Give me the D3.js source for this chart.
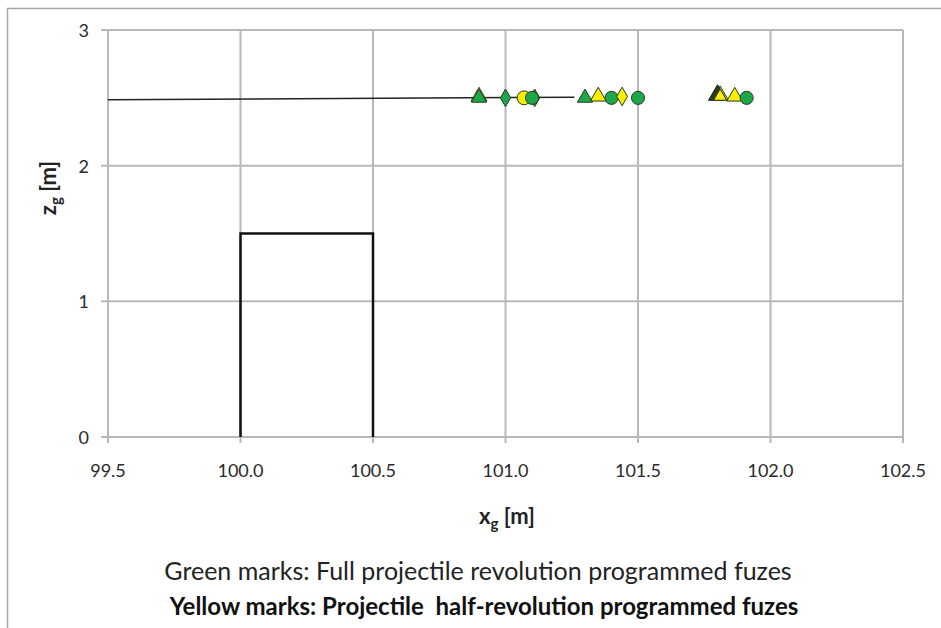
<!DOCTYPE html>
<html>
<head>
<meta charset="utf-8">
<script src="https://cdn.jsdelivr.net/npm/d3@7"></script>
<style>
  body { margin: 0; background: #fff; }
  svg { display: block; font-family: Lato, "Open Sans", sans-serif; }
</style>
</head>
<body>
<svg id="chart" width="941" height="628"></svg>
<script>
// trajectory line
const lineX = [99.5, 101.26];
const lineZ = [2.485, 2.505];

// target box outline
const boxX = [100.0, 100.0, 100.5, 100.5];
const boxZ = [0, 1.5, 1.5, 0];

// green marks (full revolution fuzes)
const greenTriX = [100.90, 101.30, 101.80];
const greenTriZ = [2.50, 2.50, 2.52];
const greenDiaX = [101.00, 101.11];
const greenDiaZ = [2.50, 2.50];
const greenCircX = [101.10, 101.40, 101.50, 101.91];
const greenCircZ = [2.50, 2.50, 2.50, 2.50];

// yellow marks (half revolution fuzes)
const yellowTriX = [100.90, 101.35, 101.81, 101.865];
const yellowTriZ = [2.51, 2.51, 2.52, 2.51];
const yellowCircX = [101.07];
const yellowCircZ = [2.50];
const yellowDiaX = [101.44];
const yellowDiaZ = [2.51];

const xTicks = [99.5, 100.0, 100.5, 101.0, 101.5, 102.0, 102.5];
const zTicks = [0, 1, 2, 3];

const svg = d3.select("#chart");
const plot = { left: 108, top: 30, right: 903, bottom: 437 };

const x = d3.scaleLinear().domain([99.5, 102.5]).range([plot.left, plot.right]);
const y = d3.scaleLinear().domain([0, 3]).range([plot.bottom, plot.top]);

// outer frame (left + top)
svg.append("path")
  .attr("d", "M7.5,628 V8.5 H941")
  .attr("fill", "none").attr("stroke", "#a8a8a8").attr("stroke-width", 1.5);

// gridlines
svg.append("g").selectAll("line").data(xTicks).enter().append("line")
  .attr("x1", d => x(d)).attr("x2", d => x(d))
  .attr("y1", plot.top).attr("y2", plot.bottom + 6)
  .attr("stroke", "#b8b8b8").attr("stroke-width", 2);
svg.append("g").selectAll("line").data(zTicks).enter().append("line")
  .attr("x1", plot.left - 7).attr("x2", plot.right)
  .attr("y1", d => y(d)).attr("y2", d => y(d))
  .attr("stroke", "#b8b8b8").attr("stroke-width", 2);

// tick labels
svg.append("g").selectAll("text").data(xTicks).enter().append("text")
  .attr("x", d => x(d)).attr("y", 477)
  .attr("text-anchor", "middle").attr("font-size", 18).attr("fill", "#2a2a2a")
  .text(d => d.toFixed(1));
svg.append("g").selectAll("text").data(zTicks).enter().append("text")
  .attr("x", 89).attr("y", d => y(d) + 7)
  .attr("text-anchor", "end").attr("font-size", 18).attr("fill", "#2a2a2a")
  .text(d => d);

// axis titles
const xt = svg.append("text").attr("x", 507).attr("y", 524)
  .attr("text-anchor", "middle").attr("font-size", 22).attr("font-weight", "bold").attr("fill", "#222");
xt.append("tspan").text("x");
xt.append("tspan").attr("font-size", 15).attr("dy", 5).text("g");
xt.append("tspan").attr("dy", -5).text(" [m]");

const yt = svg.append("text").attr("transform", "translate(56,188) rotate(-90)")
  .attr("text-anchor", "middle").attr("font-size", 22).attr("font-weight", "bold").attr("fill", "#222");
yt.append("tspan").text("z");
yt.append("tspan").attr("font-size", 15).attr("dy", 5).text("g");
yt.append("tspan").attr("dy", -5).text(" [m]");

// trajectory line
const line = d3.line().x(d => x(d[0])).y(d => y(d[1]));
svg.append("path")
  .datum(d3.zip(lineX, lineZ))
  .attr("d", line)
  .attr("fill", "none").attr("stroke", "#222").attr("stroke-width", 1.5);

// box
svg.append("path")
  .datum(d3.zip(boxX, boxZ))
  .attr("d", line)
  .attr("fill", "none").attr("stroke", "#111").attr("stroke-width", 2.5);

// markers
const GREEN = "#1ea64a", YELLOW = "#f6f000", EDGE = "#2a3a1a";
function marks(xs, zs, type, size, fill) {
  svg.append("g").selectAll("path").data(d3.zip(xs, zs)).enter().append("path")
    .attr("transform", d => `translate(${x(d[0])},${y(d[1])})`)
    .attr("d", d3.symbol().type(type).size(size))
    .attr("fill", fill).attr("stroke", EDGE).attr("stroke-width", 1);
}
marks(yellowTriX, yellowTriZ, d3.symbolTriangle, 110, YELLOW);
marks(greenTriX.slice(0, 2), greenTriZ.slice(0, 2), d3.symbolTriangle, 100, GREEN);
marks(yellowCircX, yellowCircZ, d3.symbolCircle, 150, YELLOW);
marks(greenDiaX, greenDiaZ, d3.symbolDiamond, 90, GREEN);
marks(greenCircX, greenCircZ, d3.symbolCircle, 135, GREEN);
marks(yellowDiaX, yellowDiaZ, d3.symbolDiamond, 100, YELLOW);
// stacked triangles near 101.8 (dark one underneath)
svg.append("g").selectAll("path").data(d3.zip(greenTriX.slice(2), greenTriZ.slice(2))).enter().append("path")
  .attr("transform", d => `translate(${x(d[0])},${y(d[1])})`)
  .attr("d", d3.symbol().type(d3.symbolTriangle).size(140))
  .attr("fill", "#2f3a10").attr("stroke", "#222").attr("stroke-width", 1);
marks([yellowTriX[2]], [yellowTriZ[2] - 0.01], d3.symbolTriangle, 75, YELLOW);

// captions
svg.append("text").attr("x", 478).attr("y", 580)
  .attr("text-anchor", "middle").attr("font-size", 25).attr("fill", "#222")
  .text("Green marks: Full projectile revolution programmed fuzes");
svg.append("text").attr("x", 484).attr("y", 615)
  .attr("text-anchor", "middle").attr("font-size", 24).attr("font-weight", "bold").attr("fill", "#111")
  .style("white-space", "pre")
  .text("Yellow marks: Projectile  half-revolution programmed fuzes");
</script>
</body>
</html>
